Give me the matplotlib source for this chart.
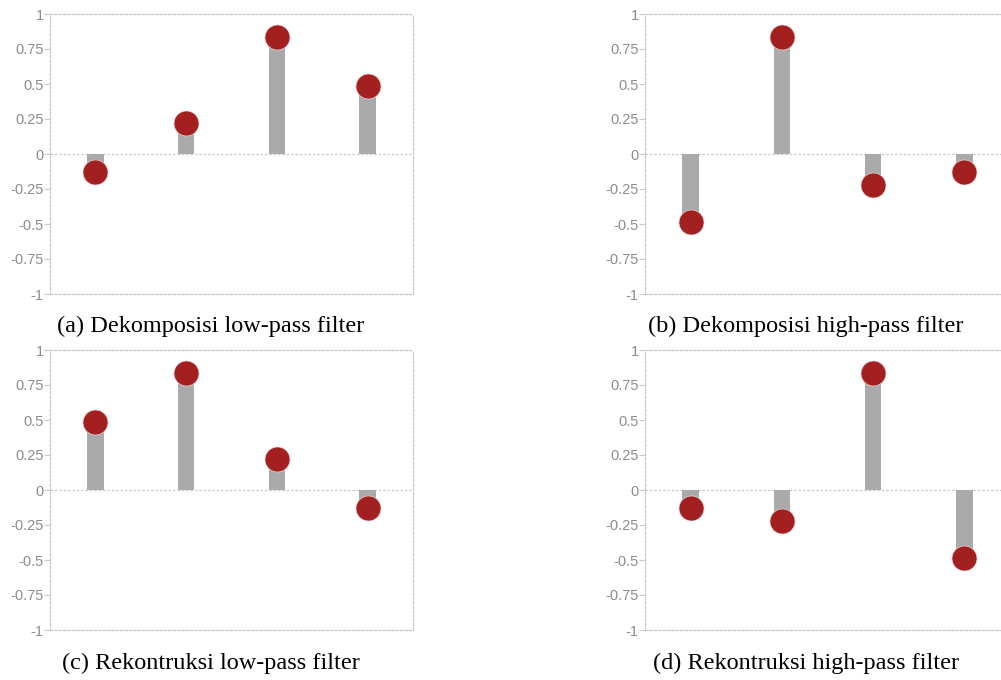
import matplotlib
matplotlib.use("Agg")
import matplotlib.pyplot as plt
import numpy as np

# db2 wavelet filter coefficients
taps = [0, 1, 2, 3]
dec_lo = [-0.1294, 0.2241, 0.8365, 0.4830]
dec_hi = [-0.4830, 0.8365, -0.2241, -0.1294]
rec_lo = [0.4830, 0.8365, 0.2241, -0.1294]
rec_hi = [-0.1294, -0.2241, 0.8365, -0.4830]

captions = ["(a) Dekomposisi low-pass filter", "(b) Dekomposisi high-pass filter",
            "(c) Rekontruksi low-pass filter", "(d) Rekontruksi high-pass filter"]
yticks = [1, 0.75, 0.5, 0.25, 0, -0.25, -0.5, -0.75, -1]
ytick_labels = ["1", "0.75", "0.5", "0.25", "0", "-0.25", "-0.5", "-0.75", "-1"]

W, H = 1001, 680
fig = plt.figure(figsize=(W / 100, H / 100), dpi=100)

# panel boxes in pixels: left, top, width, height ; caption centre x, y
boxes = [(50, 14, 363, 280, 211, 326), (645, 14, 365, 280, 806, 326),
         (50, 350, 363, 280, 211, 663), (645, 350, 365, 280, 806, 663)]
series = [dec_lo, dec_hi, rec_lo, rec_hi]

grid_col = "#c8c8c8"
for vals, box, cap in zip(series, boxes, captions):
    l, t, w, h, cx, cy = box
    ax = fig.add_axes([l / W, 1 - (t + h) / H, w / W, h / H])
    ax.bar(taps, vals, width=0.18, color="#aaaaaa", zorder=2)
    ax.plot(taps, vals, "o", ms=18, color="#a22020", mec="#ecd4d4", mew=0.5, zorder=3)
    ax.axhline(0, color=grid_col, lw=0.9, ls=(0, (2, 1.5)), zorder=1)
    ax.set_xlim(-0.5, 3.5)
    ax.set_ylim(-1, 1)
    ax.set_yticks(yticks)
    ax.set_yticklabels(ytick_labels, family="Liberation Sans", fontsize=10.5, color="#8c8c8c")
    ax.set_xticks([])
    ax.tick_params(axis="y", length=4, width=0.8, color=grid_col, pad=0.5)
    for sp in ax.spines.values():
        sp.set_color(grid_col)
        sp.set_linewidth(0.9)
        sp.set_linestyle((0, (2, 1.5)))
    fig.text(cx / W, 1 - cy / H, cap, ha="center", va="center",
             family="Liberation Serif", fontsize=17.5, color="black")

fig.savefig("out.png", dpi=100)
